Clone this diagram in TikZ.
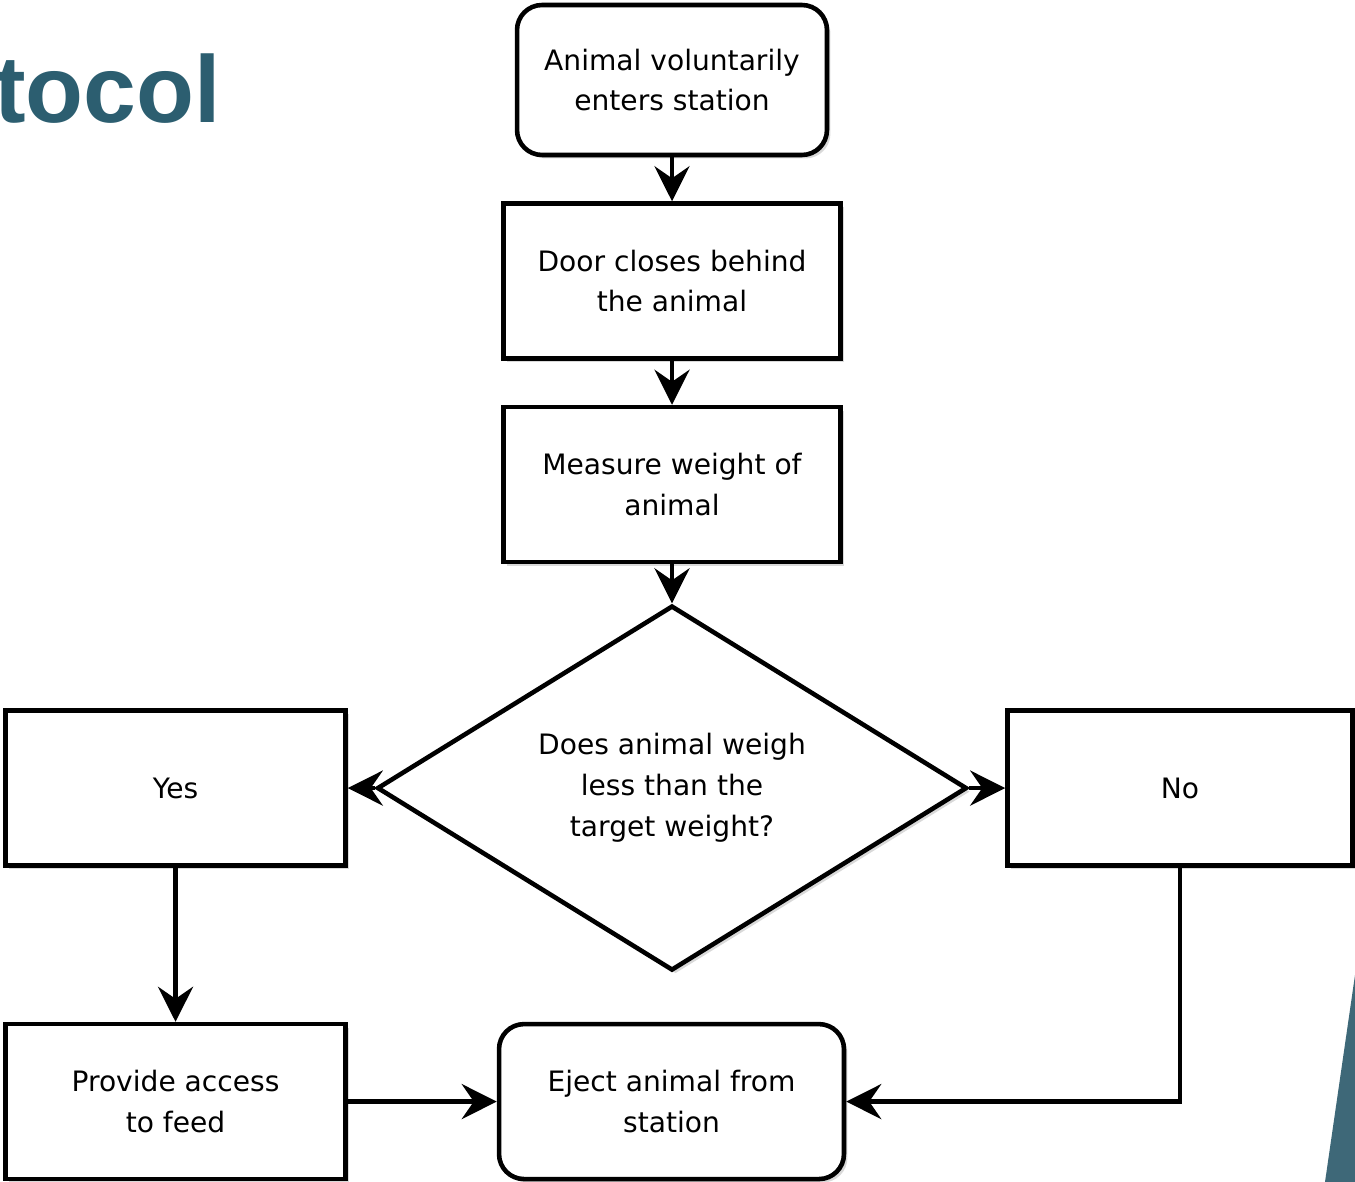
\documentclass[tikz,border=0pt]{standalone}
\usepackage{fontspec}
\setmainfont{DejaVu Sans}
\newfontfamily\titlefont{Liberation Sans}
\usepackage{tikz}
\usetikzlibrary{shapes.geometric, arrows.meta, positioning, shadows}
\definecolor{titleteal}{RGB}{44, 94, 112}
\definecolor{slideteal}{RGB}{62, 104, 120}
\tikzset{
  font=\fontsize{16}{23.3}\selectfont,
  baseblock/.style={
    rectangle, draw=black, fill=white, line width=2.6pt,
    minimum height=3.1cm, minimum width=6.74cm, align=center,
    drop shadow={shadow xshift=0.7mm, shadow yshift=-0.7mm, opacity=0.3}
  },
  roundblock/.style={baseblock, rounded corners=0.5cm},
  decisionblock/.style={
    diamond, draw=black, fill=white, line width=2.6pt, aspect=1.62,
    minimum width=11.8cm, minimum height=7.3cm, inner sep=0pt, align=center,
    drop shadow={shadow xshift=0.7mm, shadow yshift=-0.7mm, opacity=0.3}
  },
  flowline/.style={
    draw=black, line width=2.6pt, -{Stealth[length=7mm, width=7mm, inset=2.4mm]}
  }
}
\begin{document}
\begin{tikzpicture}[x=0.02cm, y=-0.02cm]
  \useasboundingbox (0,0) rectangle (1355,1182);

  % slide title and decoration
  \node[anchor=base east, inner sep=0pt, text=titleteal, font=\titlefont\bfseries\fontsize{54}{58}\selectfont] (title) at (221,123) {otocol};
  \fill[slideteal] (1355,975) -- (1325,1182) -- (1355,1182) -- cycle;

  \node[roundblock, minimum width=6.2cm, minimum height=3.0cm] (enter) at (672,80) {Animal voluntarily\\enters station};
  \node[baseblock, below=0.88cm of enter] (door) {Door closes behind\\the animal};
  \node[baseblock, below=0.88cm of door] (weigh) {Measure weight of\\animal};
  \node[decisionblock, below=0.78cm of weigh] (target) {Does animal weigh\\less than the\\target weight?};

  \node[baseblock, left=0.54cm of target, minimum width=6.8cm] (yes) {Yes};
  \node[baseblock, right=0.72cm of target, minimum width=6.9cm] (no) {No};
  \node[baseblock, below=3.08cm of yes, minimum width=6.8cm] (feed) {Provide access\\to feed};
  \node[roundblock, right=2.98cm of feed, minimum width=6.9cm] (eject) {Eject animal from\\station};

  \draw[flowline] (enter) -- (door);
  \draw[flowline] (door) -- (weigh);
  \draw[flowline] (weigh) -- (target);
  \draw[flowline] (target) -- (yes);
  \draw[flowline] (target) -- (no);
  \draw[flowline] (yes) -- (feed);
  \draw[flowline] (feed) -- (eject);
  \draw[flowline] (no.south) |- (eject.east);
\end{tikzpicture}
\end{document}
